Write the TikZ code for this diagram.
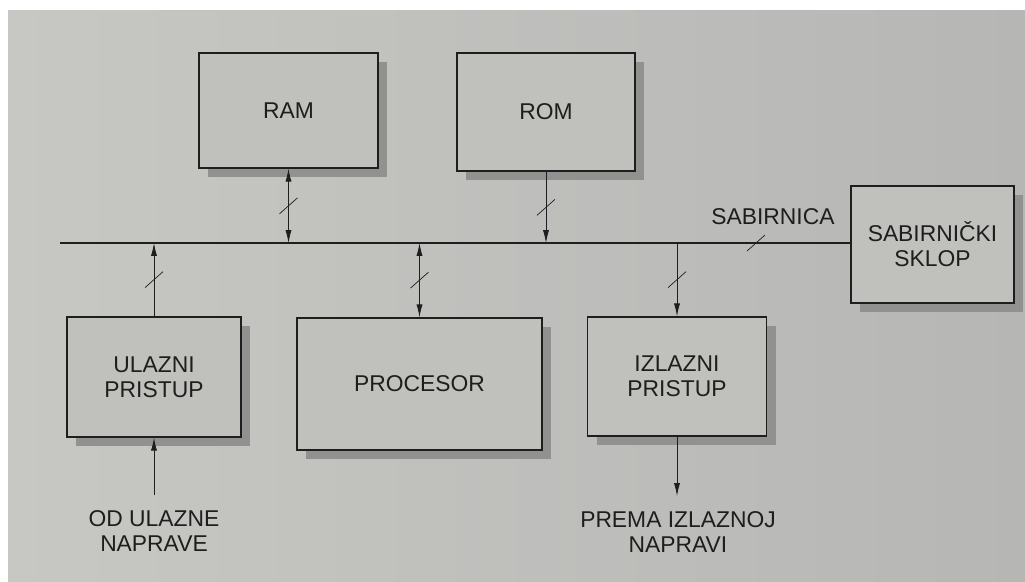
\documentclass[tikz,border=0pt]{standalone}
\usepackage{fontspec}
\setmainfont{Liberation Sans}
\usetikzlibrary{positioning,arrows.meta,shadows}

\definecolor{paperL}{RGB}{199,200,195}
\definecolor{paperM}{RGB}{192,193,189}
\definecolor{paperR}{RGB}{182,182,181}
\definecolor{ink}{RGB}{30,30,30}
\definecolor{shadowgray}{RGB}{145,145,143}

\begin{document}
\begin{tikzpicture}[
      x=0.03cm, y=-0.03cm,
      block/.style={draw=ink, line width=1.2pt, fill=paperM, align=center, inner sep=0pt,
        text=ink, font=\fontsize{19.5}{21.5}\selectfont,
        drop shadow={shadow xshift=0.27cm, shadow yshift=-0.28cm, fill=shadowgray, opacity=1}},
      lbl/.style={align=center, text=ink, inner xsep=0pt, inner ysep=13pt,
        font=\fontsize{19.5}{21.5}\selectfont},
      link/.style={draw=ink, line width=0.7pt},
      bus/.style={draw=ink, line width=1.7pt},
      buscut/.pic={\draw[-, ink, line width=0.6pt] (-9,8) -- (9,-8);},
      >={Latex[length=11pt,width=5.2pt]}
    ]
    % paper
    \fill[white] (0,0) rectangle (1025,581);
    \shade[left color=paperL, right color=paperR] (8,10) rectangle (1025,581);
    \useasboundingbox (0,0) rectangle (1025,581);

    \node[block, minimum width=5.37cm, minimum height=3.45cm] (ram) at (288.5,110.5) {RAM};
    \node[block, minimum width=5.34cm, minimum height=3.54cm] (rom) at (546,112) {ROM};
    \node[block, minimum width=4.89cm, minimum height=3.51cm] (sklop) at (932.5,244.5) {SABIRNIČKI\\SKLOP};
    \node[block, minimum width=5.22cm, minimum height=3.60cm] (ulaz) at (154,377) {ULAZNI\\PRISTUP};
    \node[block, minimum width=7.35cm, minimum height=3.96cm] (proc) at (419.5,384) {PROCESOR};
    \node[block, minimum width=5.37cm, minimum height=3.57cm] (izlaz) at (677,376.5) {IZLAZNI\\PRISTUP};

    \node[lbl] (inlbl) at (154,531) {OD ULAZNE\\NAPRAVE};
    \node[lbl] (outlbl) at (678,532) {PREMA IZLAZNOJ\\NAPRAVI};

    % sabirnica
    \coordinate (busL) at (60,243);
    \draw[bus] (busL) -- (busL -| sklop.west);
    \pic at (756,243) {buscut};
    \node[lbl, inner ysep=0pt] (buslbl) at (773,217) {SABIRNICA};

    \draw[link,<->] (ram.south) -- pic[pos=.5]{buscut} (ram.south |- busL);
    \draw[link,->] (rom.south) -- pic[pos=.5]{buscut} (rom.south |- busL);
    \draw[link,->] (ulaz.north) -- pic[pos=.5]{buscut} (ulaz.north |- busL);
    \draw[link,<->] (proc.north) -- pic[pos=.5]{buscut} (proc.north |- busL);
    \draw[link,->] (izlaz.north |- busL) -- pic[pos=.5]{buscut} (izlaz.north);

    \draw[link,->] (inlbl.north) -- (ulaz.south);
    \draw[link,->] (izlaz.south) -- (izlaz.south |- outlbl.north);
  \end{tikzpicture}
\end{document}
